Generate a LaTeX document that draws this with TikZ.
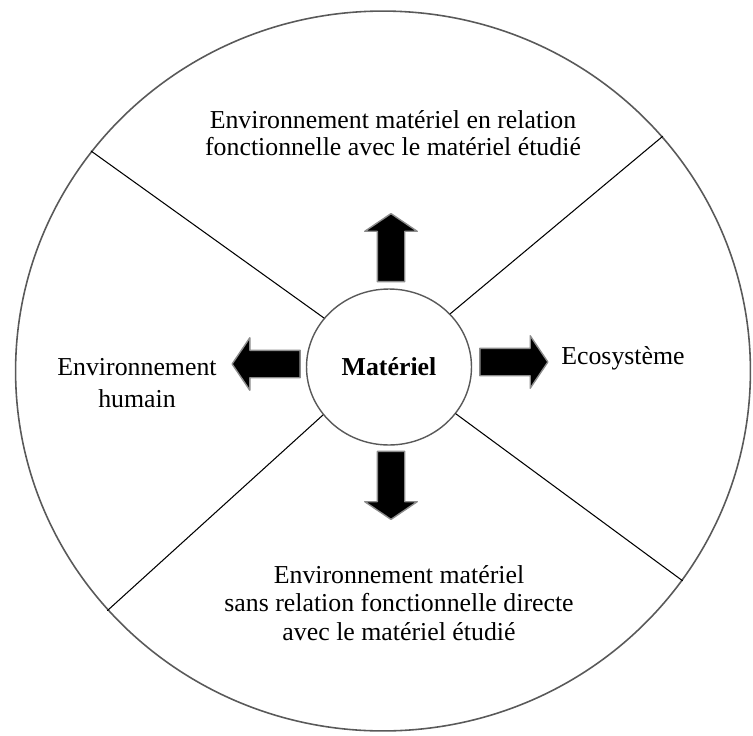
\documentclass[tikz,border=0pt]{standalone}
\usepackage{fontspec}
\setmainfont{Liberation Serif}
\usetikzlibrary{shapes.geometric, shapes.arrows}

\tikzset{
  zone/.style={align=center, font=\fontsize{14.7}{15.4}\selectfont},
  grosseFleche/.style={single arrow, draw=black!45, fill=black, line width=0.8pt,
    inner sep=0pt, text height=0.52cm, text depth=0pt, minimum height=1.36cm,
    single arrow head extend=0.25cm, single arrow tip angle=112},
  trait/.style={line width=0.6pt}
}

\begin{document}
\begin{tikzpicture}[line cap=round,line join=round,x=0.02cm,y=0.02cm]
\useasboundingbox (0,0) rectangle (753,735);
% le grand cercle
\node[draw=black!65, line width=0.9pt, ellipse, inner sep=0pt,
  minimum width=14.7cm, minimum height=14.4cm] (cadre) at (383,364) {};
% le materiel au centre
\node[draw=black!65, line width=0.8pt, ellipse, inner sep=0pt,
  minimum width=3.3cm, minimum height=3.12cm,
  font=\fontsize{14.7}{15.4}\selectfont\bfseries] (materiel) at (389,368) {Matériel};

% les separations
\draw[trait] (materiel.143) -- (cadre.143);
\draw[trait] (materiel.41) -- (cadre.40);
\draw[trait] (materiel.216) -- (cadre.221);
\draw[trait] (materiel.325) -- (cadre.325);

% les fleches
\node[grosseFleche, rotate=90, anchor=tail] (flHaut) at ([shift={(2,6)}]materiel.north) {};
\node[grosseFleche, anchor=tail] (flDroite) at ([shift={(7,5)}]materiel.east) {};
\node[grosseFleche, rotate=180, anchor=tail] (flGauche) at ([shift={(-5,3)}]materiel.west) {};
\node[grosseFleche, rotate=-90, anchor=tail] (flBas) at ([shift={(2,-5)}]materiel.south) {};

% les textes
\node[zone] (relation) at (393,602) {Environnement matériel en relation\\fonctionnelle avec le matériel étudié};
\node[zone] (humain) at (137,352) {Environnement\\[0.1cm]humain};
\node[zone] (ecosysteme) at (623,377) {Ecosystème};
\node[zone] (sansRelation) at (399,132) {Environnement matériel\\[0.03cm]sans relation fonctionnelle directe\\[0.03cm]avec le matériel étudié};
\end{tikzpicture}
\end{document}
